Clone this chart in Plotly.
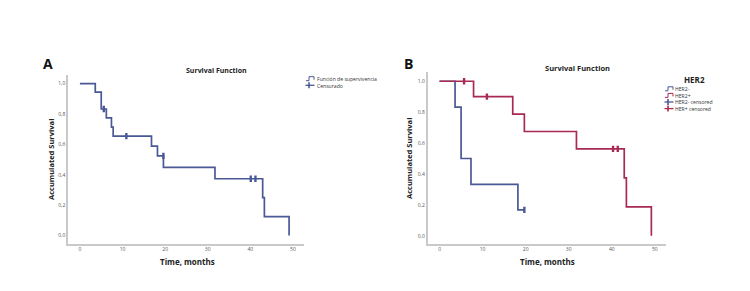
import plotly.graph_objects as go

# ---------------- Data ----------------
# Panel A: all patients
a_times = [0, 3.6, 5.0, 6.2, 7.4, 7.8, 16.8, 18.2, 19.6, 31.7, 42.9, 43.3, 49.1]
a_surv = [1.0, 0.944, 0.833, 0.774, 0.714, 0.655, 0.589, 0.524, 0.449, 0.374, 0.25, 0.125, 0.0]
a_cens_times = [5.6, 10.9, 19.6, 40.1, 41.2]
a_cens_surv = [0.833, 0.655, 0.524, 0.374, 0.374]

# Panel B: by HER2 status
neg_times = [0, 3.6, 5.0, 7.3, 18.2, 19.7]
neg_surv = [1.0, 0.833, 0.5, 0.333, 0.167, 0.167]
neg_cens_times = [19.7]
neg_cens_surv = [0.167]

pos_times = [0, 7.9, 17.0, 19.7, 31.8, 42.9, 43.4, 49.2]
pos_surv = [1.0, 0.9, 0.7875, 0.675, 0.5625, 0.375, 0.1875, 0.0]
pos_cens_times = [5.7, 11.0, 40.3, 41.4]
pos_cens_surv = [1.0, 0.9, 0.5625, 0.5625]

x_ticks = [0, 10, 20, 30, 40, 50]
y_ticks = [0, 0.2, 0.4, 0.6, 0.8, 1.0]

legend_a = ["Función de supervivencia", "Censurado"]
legend_b = ["HER2-", "HER2+", "HER2- censored", "HER+ censored"]

BLUE = "#4a5896"
RED = "#a82a52"
W, H = 750, 291

fig = go.Figure()

def step(x, y, color, xa, ya):
    fig.add_trace(go.Scatter(x=x, y=y, mode="lines", line=dict(color=color, width=1.7, shape="hv"),
                             xaxis=xa, yaxis=ya, showlegend=False, hoverinfo="skip"))

def cens(x, y, color, xa, ya):
    fig.add_trace(go.Scatter(x=x, y=y, mode="markers",
                             marker=dict(symbol="line-ns-open", size=4.5, color=color,
                                         line=dict(color=color, width=2.4)),
                             xaxis=xa, yaxis=ya, showlegend=False, hoverinfo="skip"))

step(a_times, a_surv, BLUE, "x", "y")
cens(a_cens_times, a_cens_surv, BLUE, "x", "y")
step(neg_times, neg_surv, BLUE, "x2", "y2")
step(pos_times, pos_surv, RED, "x2", "y2")
cens(neg_cens_times, neg_cens_surv, BLUE, "x2", "y2")
cens(pos_cens_times, pos_cens_surv, RED, "x2", "y2")

def px(x):
    return x / W

def py(y):
    return 1 - y / H

axis_common = dict(showline=True, linecolor="#c9c9c9", linewidth=1.5, showgrid=False, zeroline=False,
                   ticks="", tickfont=dict(size=5, color="#555", family="Open Sans"))

fig.update_layout(
    width=W, height=H, margin=dict(l=0, r=0, t=0, b=0),
    paper_bgcolor="white", plot_bgcolor="white", separators=", ",
    showlegend=False,
    xaxis=dict(domain=[px(60), px(296)], range=[-2.8, 52.6], tickvals=x_ticks, anchor="y", **axis_common),
    yaxis=dict(domain=[py(235.5), py(66.5)], range=[-0.052, 1.06], tickvals=y_ticks, tickformat=".1f",
               anchor="x", **axis_common),
    xaxis2=dict(domain=[px(419.5), px(658)], range=[-2.8, 52.6], tickvals=x_ticks, anchor="y2", **axis_common),
    yaxis2=dict(domain=[py(235.5), py(64)], range=[-0.05, 1.06], tickvals=y_ticks, tickformat=".1f",
                anchor="x2", **axis_common),
)

ann = []
def text(x, y, s, size, bold=False, angle=0, xanchor="center", yanchor="middle", color="#222", align="center"):
    ann.append(dict(x=px(x), y=py(y), xref="paper", yref="paper", text=(f"<b>{s}</b>" if bold else s),
                    showarrow=False, xanchor=xanchor, yanchor=yanchor, textangle=angle, align=align,
                    borderpad=0, font=dict(size=size, color=color, family="Open Sans")))

# Panel labels
text(40, 55, "A", 14, bold=True, color="#111")
text(400, 55, "B", 14, bold=True, color="#111")
# Titles
text(208, 62, "Survival Function", 7, bold=True)
text(569, 60, "Survival Function", 7.5, bold=True)
# Axis titles
text(179, 253, "Time, months", 8, bold=True)
text(539, 253, "Time, months", 8, bold=True)
text(43, 152, "Accumulated Survival", 7.5, bold=True, angle=-90)
text(401, 150, "Accumulated Survival", 7.5, bold=True, angle=-90)

# Legend A (one block of text, rows ~6.6 px apart)
text(308, 67.3, "<br>".join(legend_a), 5.1, xanchor="left", yanchor="top", color="#333", align="left")
# Legend B
text(686, 71, "HER2", 8, bold=True)
text(666, 77.5, "<br>".join(legend_b), 5.1, xanchor="left", yanchor="top", color="#333", align="left")
fig.update_layout(annotations=ann)

# Legend symbols (decorations in paper coordinates)
shapes = []
def step_sym(x0, yc, color):
    path = (f"M {px(x0)} {py(yc+2)} L {px(x0+3)} {py(yc+2)} L {px(x0+3)} {py(yc-2)} "
            f"L {px(x0+8)} {py(yc-2)} L {px(x0+8)} {py(yc+1)}")
    shapes.append(dict(type="path", xref="paper", yref="paper", path=path, line=dict(color=color, width=1)))

def cens_sym(x0, yc, color):
    shapes.append(dict(type="line", xref="paper", yref="paper", x0=px(x0), x1=px(x0+9), y0=py(yc), y1=py(yc),
                       line=dict(color=color, width=1.3)))
    shapes.append(dict(type="line", xref="paper", yref="paper", x0=px(x0+3.5), x1=px(x0+3.5), y0=py(yc-3),
                       y1=py(yc+3), line=dict(color=color, width=1.6)))

step_sym(298, 70.7, BLUE)
cens_sym(297.5, 77.3, BLUE)
step_sym(657, 80.8, BLUE)
step_sym(657, 87.4, RED)
cens_sym(656.5, 94.0, BLUE)
cens_sym(656.5, 100.6, RED)
fig.update_layout(shapes=shapes)

fig.write_html("out.html")
